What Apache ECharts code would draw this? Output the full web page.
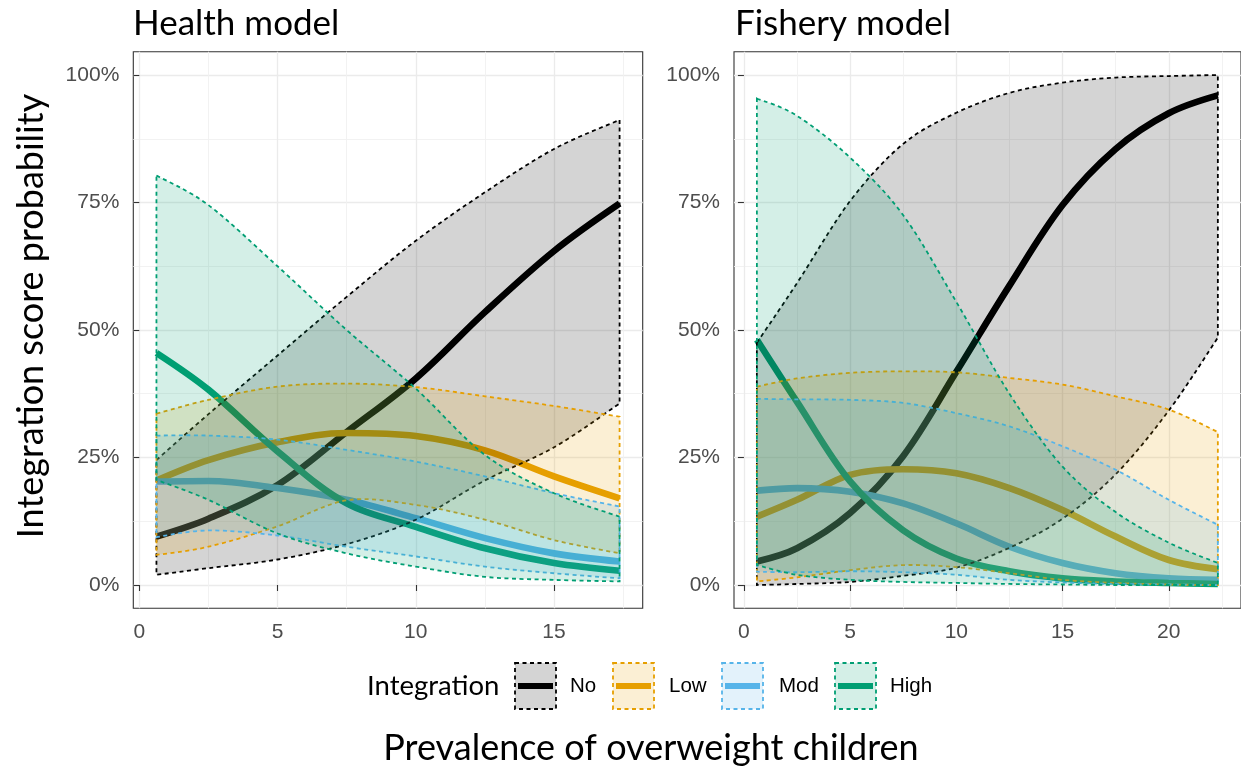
<!DOCTYPE html>
<html>
<head>
<meta charset="utf-8">
<script src="https://cdn.jsdelivr.net/npm/echarts@6/dist/echarts.min.js"></script>
<style>
  html, body { margin: 0; padding: 0; background: #ffffff; }
  #chart { width: 1241px; height: 766px; }
</style>
</head>
<body>
<div id="chart"></div>
<script>
// ---------------- DATA ----------------
const categories = ['No', 'Low', 'Mod', 'High'];
const panelTitles = ['Health model', 'Fishery model'];
const yTickValues = [0, 0.25, 0.5, 0.75, 1];
const healthXTicks = [0, 5, 10, 15];
const fisheryXTicks = [0, 5, 10, 15, 20];

// Health model
const healthX = [0.62, 2.5, 5, 7.5, 10, 12.5, 15, 17.37];
const healthNoMean   = [0.095, 0.13, 0.196, 0.30, 0.405, 0.535, 0.655, 0.748];
const healthNoLower  = [0.02, 0.033, 0.05, 0.08, 0.128, 0.205, 0.27, 0.356];
const healthNoUpper  = [0.245, 0.335, 0.45, 0.565, 0.675, 0.77, 0.855, 0.912];
const healthLowMean  = [0.205, 0.245, 0.28, 0.298, 0.292, 0.264, 0.213, 0.17];
const healthLowLower = [0.059, 0.075, 0.115, 0.166, 0.157, 0.128, 0.088, 0.062];
const healthLowUpper = [0.336, 0.363, 0.389, 0.395, 0.388, 0.37, 0.351, 0.33];
const healthModMean  = [0.203, 0.204, 0.19, 0.167, 0.131, 0.092, 0.062, 0.046];
const healthModLower = [0.094, 0.107, 0.097, 0.075, 0.056, 0.036, 0.023, 0.013];
const healthModUpper = [0.293, 0.293, 0.285, 0.265, 0.242, 0.213, 0.18, 0.154];
const healthHighMean = [0.455, 0.383, 0.262, 0.16, 0.114, 0.072, 0.043, 0.028];
const healthHighLower= [0.206, 0.167, 0.101, 0.062, 0.036, 0.016, 0.01, 0.007];
const healthHighUpper= [0.803, 0.745, 0.625, 0.50, 0.385, 0.255, 0.18, 0.134];

// Fishery model
const fisheryX = [0.61, 2.5, 5, 7.5, 10, 12.5, 15, 17.5, 20, 22.31];
const fisheryNoMean   = [0.046, 0.072, 0.141, 0.253, 0.418, 0.587, 0.745, 0.855, 0.925, 0.96];
const fisheryNoLower  = [0.0, 0.002, 0.006, 0.018, 0.034, 0.073, 0.13, 0.217, 0.342, 0.485];
const fisheryNoUpper  = [0.475, 0.592, 0.753, 0.865, 0.926, 0.965, 0.985, 0.995, 0.998, 1.0];
const fisheryLowMean  = [0.134, 0.167, 0.216, 0.227, 0.219, 0.19, 0.147, 0.095, 0.049, 0.031];
const fisheryLowLower = [0.007, 0.015, 0.029, 0.039, 0.035, 0.023, 0.01, 0.004, 0.001, 0.0];
const fisheryLowUpper = [0.389, 0.405, 0.416, 0.419, 0.417, 0.406, 0.393, 0.37, 0.344, 0.30];
const fisheryModMean  = [0.185, 0.19, 0.183, 0.16, 0.121, 0.075, 0.043, 0.023, 0.013, 0.01];
const fisheryModLower = [0.026, 0.025, 0.027, 0.025, 0.02, 0.01, 0.005, 0.002, 0.001, 0.0];
const fisheryModUpper = [0.365, 0.364, 0.363, 0.357, 0.337, 0.311, 0.272, 0.226, 0.167, 0.118];
const fisheryHighMean = [0.481, 0.359, 0.203, 0.107, 0.052, 0.027, 0.013, 0.007, 0.004, 0.002];
const fisheryHighLower= [0.039, 0.02, 0.01, 0.006, 0.004, 0.002, 0.001, 0.0, 0.0, 0.0];
const fisheryHighUpper= [0.954, 0.92, 0.838, 0.725, 0.555, 0.375, 0.232, 0.143, 0.083, 0.043];

// ---------------- STYLE ----------------
const colors = ['#000000', '#E69F00', '#56B4E9', '#009E73'];
const fillAlpha = 0.17;
const headFont = 'Lato, "DejaVu Sans", sans-serif';
const tickFont = '"Liberation Sans", Arial, sans-serif';
const dash = [4, 3.5];

function rgba(hex, a) {
  const n = parseInt(hex.slice(1), 16);
  return 'rgba(' + ((n >> 16) & 255) + ',' + ((n >> 8) & 255) + ',' + (n & 255) + ',' + a + ')';
}

// Catmull-Rom spline through pixel points (current point is pts[0])
function splineSegs(pts) {
  let d = '';
  for (let i = 0; i < pts.length - 1; i++) {
    const p0 = pts[i - 1] || pts[i], p1 = pts[i], p2 = pts[i + 1], p3 = pts[i + 2] || pts[i + 1];
    const c1x = p1[0] + (p2[0] - p0[0]) / 6, c1y = p1[1] + (p2[1] - p0[1]) / 6;
    const c2x = p2[0] - (p3[0] - p1[0]) / 6, c2y = p2[1] - (p3[1] - p1[1]) / 6;
    d += ' C' + c1x + ',' + c1y + ' ' + c2x + ',' + c2y + ' ' + p2[0] + ',' + p2[1];
  }
  return d;
}

const panels = [
  { x: healthX, ticks: healthXTicks, min: -0.217, max: 18.206,
    grid: { left: 133.3, top: 51.7, width: 509.4, height: 556.6 },
    groups: [
      [healthNoMean, healthNoLower, healthNoUpper],
      [healthLowMean, healthLowLower, healthLowUpper],
      [healthModMean, healthModLower, healthModUpper],
      [healthHighMean, healthHighLower, healthHighUpper]
    ] },
  { x: fisheryX, ticks: fisheryXTicks, min: -0.467, max: 23.40,
    grid: { left: 734, top: 51.7, width: 511, height: 556.6 },
    groups: [
      [fisheryNoMean, fisheryNoLower, fisheryNoUpper],
      [fisheryLowMean, fisheryLowLower, fisheryLowUpper],
      [fisheryModMean, fisheryModLower, fisheryModUpper],
      [fisheryHighMean, fisheryHighLower, fisheryHighUpper]
    ] }
];

const grids = [], xAxes = [], yAxes = [], series = [];
panels.forEach((p, gi) => {
  grids.push(Object.assign({ show: true, borderColor: '#333333', borderWidth: 1.1, backgroundColor: '#ffffff' }, p.grid));
  xAxes.push({
    type: 'value', gridIndex: gi, min: p.min, max: p.max,
    minInterval: 5, maxInterval: 5,
    axisLine: { show: false },
    axisTick: { show: true, length: 6, lineStyle: { color: '#333333', width: 1.1 }, customValues: p.ticks },
    axisLabel: { show: true, customValues: p.ticks, color: '#4d4d4d', fontSize: 21, fontFamily: tickFont, margin: 13 },
    splitLine: { show: true, lineStyle: { color: '#ebebeb', width: 1.3 } },
    minorTick: { show: false, splitNumber: 2 },
    minorSplitLine: { show: true, lineStyle: { color: '#f0f0f0', width: 0.9 } }
  });
  yAxes.push({
    type: 'value', gridIndex: gi, min: -0.0457, max: 1.0457,
    minInterval: 0.25, maxInterval: 0.25,
    axisLine: { show: false },
    axisTick: { show: true, length: 6, lineStyle: { color: '#333333', width: 1.1 }, customValues: yTickValues },
    axisLabel: { show: true, customValues: yTickValues, color: '#4d4d4d', fontSize: 21, fontFamily: tickFont, margin: 14,
      formatter: v => Math.round(v * 100) + '%' },
    splitLine: { show: true, lineStyle: { color: '#ebebeb', width: 1.3 } },
    minorTick: { show: false, splitNumber: 2 },
    minorSplitLine: { show: true, lineStyle: { color: '#f0f0f0', width: 0.9 } }
  });
  // mean lines first (underneath the ribbons)
  p.groups.forEach((g, k) => {
    series.push({
      type: 'line', name: categories[k], xAxisIndex: gi, yAxisIndex: gi,
      data: p.x.map((x, i) => [x, g[0][i]]),
      smooth: 0.35, symbol: 'none', z: 2,
      lineStyle: { color: colors[k], width: 6.6, cap: 'butt' }
    });
  });
  // ribbons (filled band with a full dashed outline), on top of the lines
  p.groups.forEach((g, k) => {
    const lo = g[1], up = g[2];
    const n = p.x.length;
    series.push({
      type: 'custom', coordinateSystem: 'cartesian2d', xAxisIndex: gi, yAxisIndex: gi, z: 3,
      data: p.x.map((x, i) => [x, lo[i], up[i]]),
      renderItem: (params, api) => {
        if (params.dataIndexInside !== 0) return null;
        const upPts = [], loPts = [];
        for (let i = 0; i < n; i++) {
          const xv = api.value(0, i);
          upPts.push(api.coord([xv, api.value(2, i)]));
          loPts.push(api.coord([xv, api.value(1, i)]));
        }
        loPts.reverse();
        const d = 'M' + upPts[0][0] + ',' + upPts[0][1] + splineSegs(upPts) +
          ' L' + loPts[0][0] + ',' + loPts[0][1] + splineSegs(loPts) + ' Z';
        return { type: 'path', shape: { pathData: d },
          style: { fill: rgba(colors[k], fillAlpha), stroke: colors[k], lineWidth: 1.8, lineDash: dash } };
      }
    });
  });
});

// ---------------- TEXT & LEGEND ----------------
const graphic = [];
graphic.push({ type: 'text', left: 133, top: 6, style: { text: panelTitles[0], font: '35px ' + headFont, fill: '#000' } });
graphic.push({ type: 'text', left: 735, top: 6, style: { text: panelTitles[1], font: '35px ' + headFont, fill: '#000' } });
graphic.push({ type: 'text', x: 651, y: 748, style: { text: 'Prevalence of overweight children', font: '36px ' + headFont, fill: '#000', textAlign: 'center', textVerticalAlign: 'middle' } });
graphic.push({ type: 'text', x: 31, y: 316, rotation: Math.PI / 2, style: { text: 'Integration score probability', font: '36px ' + headFont, fill: '#000', textAlign: 'center', textVerticalAlign: 'middle' } });
graphic.push({ type: 'text', x: 367, y: 686, style: { text: 'Integration', font: '27.5px ' + headFont, fill: '#000', textAlign: 'left', textVerticalAlign: 'middle' } });
const keyLeft = [515, 613, 722, 835];
const labelLeft = [570, 669, 779, 890];
categories.forEach((c, k) => {
  graphic.push({ type: 'rect', shape: { x: keyLeft[k], y: 663, width: 41, height: 46 },
    style: { fill: rgba(colors[k], fillAlpha), stroke: colors[k], lineWidth: 1.8, lineDash: dash } });
  graphic.push({ type: 'line', shape: { x1: keyLeft[k] + 3, y1: 686, x2: keyLeft[k] + 38, y2: 686 },
    style: { stroke: colors[k], lineWidth: 6 } });
  graphic.push({ type: 'text', x: labelLeft[k], y: 686, style: { text: c, font: '20.5px ' + tickFont, fill: '#000', textVerticalAlign: 'middle' } });
});

const chart = echarts.init(document.getElementById('chart'), null, { renderer: 'canvas' });
chart.setOption({
  animation: false,
  backgroundColor: '#ffffff',
  grid: grids, xAxis: xAxes, yAxis: yAxes,
  series: series,
  graphic: graphic
});
</script>
</body>
</html>
